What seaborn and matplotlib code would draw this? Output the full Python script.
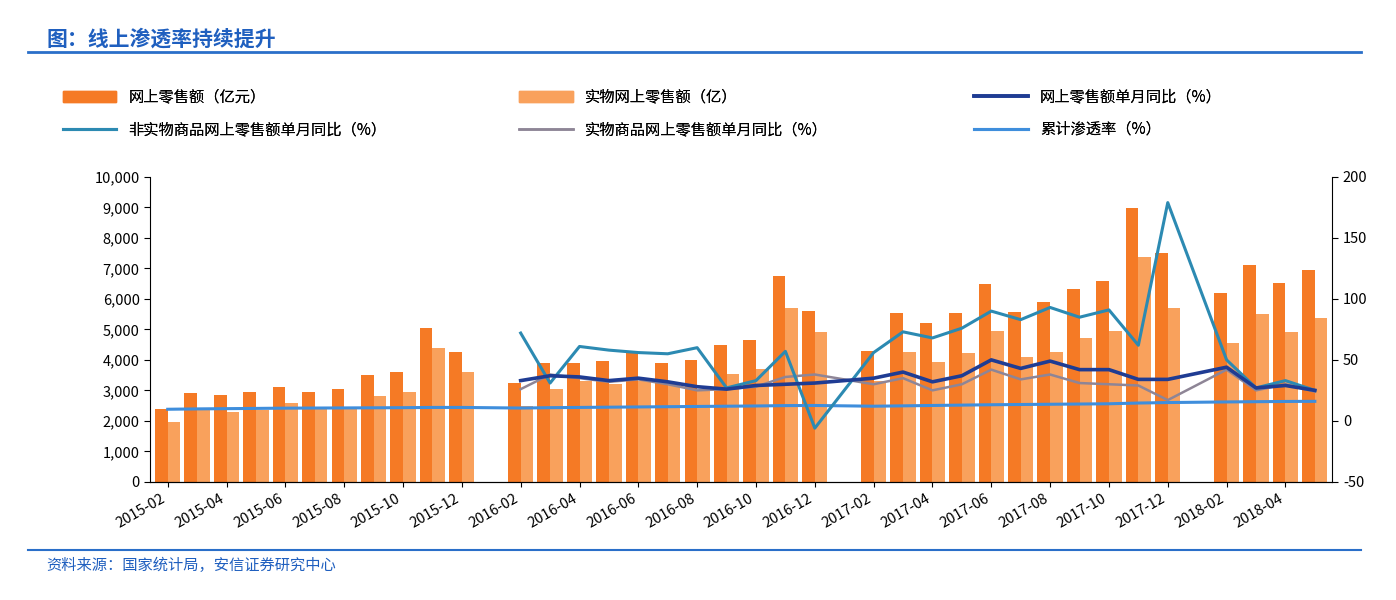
import numpy as np
import pandas as pd
import matplotlib
matplotlib.use("Agg")
import matplotlib.pyplot as plt
import seaborn as sns
from matplotlib.patches import Patch
from matplotlib.lines import Line2D

plt.rcParams["font.family"] = ["Noto Sans CJK SC", "DejaVu Sans"]
plt.rcParams["axes.unicode_minus"] = False

# ---------------------------------------------------------------------------
# Data (January values are missing in the source)
# ---------------------------------------------------------------------------
months = pd.period_range("2015-02", "2018-05", freq="M").strftime("%Y-%m").tolist()
data_months = [m for m in months if not m.endswith("-01")]

online_sales = [2400, 2900, 2850, 2950, 3100, 2950, 3050, 3500, 3600, 5050, 4250,
                3250, 3900, 3900, 3950, 4250, 3900, 4000, 4500, 4650, 6750, 5600,
                4300, 5540, 5200, 5540, 6490, 5570, 5900, 6330, 6590, 8980, 7500,
                6200, 7110, 6530, 6950]
physical_sales = [1950, 2350, 2300, 2350, 2600, 2400, 2450, 2800, 2950, 4400, 3600,
                  2500, 3050, 3300, 3200, 3300, 3200, 3000, 3550, 3700, 5700, 4900,
                  3300, 4260, 3930, 4230, 4950, 4100, 4260, 4720, 4950, 7380, 5700,
                  4560, 5510, 4920, 5380]

nan = np.nan
online_yoy = [nan] * 11 + [
    33, 37, 36, 33, 35, 32, 28, 26, 29, 30, 31,
    35, 40, 32, 37, 50, 43, 49, 42, 42, 34, 34,
    44, 27, 29, 25]
nonphys_yoy = [nan] * 11 + [
    72, 31, 61, 58, 56, 55, 60, 27, 33, 57, -6,
    56, 73, 68, 76, 90, 83, 93, 85, 91, 62, 179,
    50, 27, 33, 25]
phys_yoy = [nan] * 11 + [
    26, 38, 35, 32, 34, 30, 25, 26, 28, 36, 38,
    30, 35, 25, 30, 42, 34, 38, 31, 30, 29, 17,
    42, 25, 30, 24]
penetration = [9.5, 9.8, 10.0, 10.2, 10.4, 10.5, 10.6, 10.7, 10.8, 11.0, 11.0,
               10.5, 10.8, 11.0, 11.2, 11.4, 11.6, 11.8, 12.0, 12.2, 12.5, 12.6,
               12.0, 12.3, 12.6, 12.9, 13.2, 13.4, 13.6, 13.8, 14.0, 14.6, 15.0,
               15.5, 15.7, 15.9, 16.0]

tick_labels = months[::2]

NAME_ON = "网上零售额（亿元）"
NAME_PH = "实物网上零售额（亿）"
NAME_OY = "网上零售额单月同比（%）"
NAME_NP = "非实物商品网上零售额单月同比（%）"
NAME_PY = "实物商品网上零售额单月同比（%）"
NAME_PEN = "累计渗透率（%）"

C_ON, C_PH = "#F57A25", "#F9A15C"
C_OY, C_NP, C_PY, C_PEN = "#1F3C93", "#2C8AB2", "#8E8596", "#3F8EDC"

pos = {m: i for i, m in enumerate(months)}
xs = np.array([pos[m] for m in data_months])

bars = pd.DataFrame({
    "month": data_months * 2,
    "value": online_sales + physical_sales,
    "series": [NAME_ON] * len(data_months) + [NAME_PH] * len(data_months),
})

fig = plt.figure(figsize=(13.96, 6.0), dpi=100)
ax = fig.add_axes([0.1075, 0.197, 0.847, 0.508])
sns.barplot(data=bars, x="month", y="value", hue="series", order=months,
            hue_order=[NAME_ON, NAME_PH], palette=[C_ON, C_PH],
            width=0.86, saturation=1, ax=ax, legend=False)

ax2 = ax.twinx()
for vals, color, lw in [(penetration, C_PEN, 2.2), (phys_yoy, C_PY, 1.8),
                        (nonphys_yoy, C_NP, 2.2), (online_yoy, C_OY, 2.6)]:
    v = np.array(vals, dtype=float)
    ok = ~np.isnan(v)
    sns.lineplot(x=xs[ok], y=v[ok], color=color, linewidth=lw, ax=ax2)

ax.set_xlim(-0.6, len(months) - 0.4)
ax.set_ylim(0, 10000)
ax.set_yticks(np.arange(0, 10001, 1000))
ax.set_yticklabels([f"{t:,}" for t in range(0, 10001, 1000)], fontsize=10.5)
ax2.set_ylim(-50, 200)
ax2.set_yticks(np.arange(-50, 201, 50))
ax2.tick_params(axis="y", labelsize=10.5, length=4)
ax.set_xticks(range(0, len(months), 2))
ax.set_xticklabels(tick_labels, rotation=30, ha="right", fontsize=10.5)
ax.set_xlabel("")
ax.set_ylabel("")
ax2.set_ylabel("")
for a in (ax, ax2):
    a.spines["top"].set_visible(False)
ax.spines["right"].set_visible(False)
ax2.spines["left"].set_visible(False)
ax.tick_params(axis="y", length=4)

# Legend: three columns placed explicitly
handles = [Patch(color=C_ON), Patch(color=C_PH), Line2D([], [], color=C_OY, lw=2.6),
           Line2D([], [], color=C_NP, lw=2.2), Line2D([], [], color=C_PY, lw=1.8),
           Line2D([], [], color=C_PEN, lw=2.2)]
names = [NAME_ON, NAME_PH, NAME_OY, NAME_NP, NAME_PY, NAME_PEN]
for col, x0 in enumerate([0.035, 0.362, 0.688]):
    idx = [col, col + 3]
    leg = fig.legend([handles[i] for i in idx], [names[i] for i in idx],
                     loc="upper left", bbox_to_anchor=(x0, 0.875), frameon=False,
                     fontsize=11, handlelength=3.5, labelspacing=1.0)
    fig.add_artist(leg)

# Title, rules and source
fig.text(0.033, 0.935, "图：线上渗透率持续提升", color="#1F5FBF", fontsize=15,
         fontweight="bold", va="center", style="italic")
fig.add_artist(Line2D([0.02, 0.975], [0.913, 0.913], color="#2A6FC9", lw=2))
fig.add_artist(Line2D([0.02, 0.975], [0.083, 0.083], color="#2A6FC9", lw=1.5))
fig.text(0.033, 0.058, "资料来源：国家统计局，安信证券研究中心", color="#1F5FBF",
         fontsize=11, va="center", style="italic")

fig.savefig("out.png", dpi=100, facecolor="white")
